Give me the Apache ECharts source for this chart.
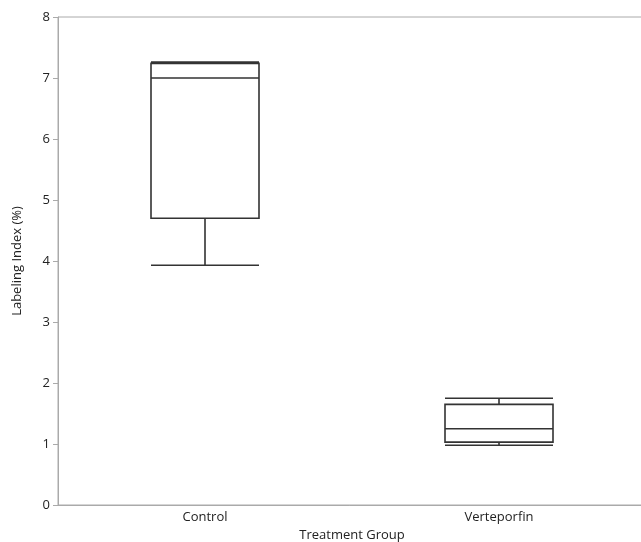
<!DOCTYPE html>
<html><head><meta charset="utf-8">
<script src="https://cdn.jsdelivr.net/npm/echarts@6/dist/echarts.min.js"></script>
<style>html,body{margin:0;padding:0;background:#fff}#c{width:641px;height:542px}</style>
</head><body><div id="c"></div>
<script>
const categories = ["Control", "Verteporfin"];
// [min, Q1, median, Q3, max]
const controlBox = [3.93, 4.70, 7.00, 7.24, 7.26];
const verteporfinBox = [0.98, 1.03, 1.25, 1.65, 1.75];
const yTicks = [0, 1, 2, 3, 4, 5, 6, 7, 8];

const chart = echarts.init(document.getElementById('c'), null, {renderer: 'canvas'});
const font = '"Open Sans", "Noto Sans", sans-serif';
chart.setOption({
  animation: false,
  backgroundColor: '#fff',
  grid: {left: 58, top: 17, width: 588, height: 488, show: true, borderColor: '#aaa', borderWidth: 1,
         containLabel: false, outerBoundsMode: 'none'},
  xAxis: {
    type: 'category', data: categories,
    name: 'Treatment Group', nameLocation: 'middle', nameGap: 23,
    nameTextStyle: {color: '#222', fontSize: 13, fontFamily: font},
    axisLine: {lineStyle: {color: '#aaa', width: 1}},
    axisTick: {show: false},
    axisLabel: {color: '#222', fontSize: 13, fontFamily: font, margin: 6}
  },
  yAxis: {
    type: 'value', min: yTicks[0], max: yTicks[yTicks.length - 1], interval: 1,
    name: 'Labeling Index (%)', nameLocation: 'middle', nameGap: 34,
    nameTextStyle: {color: '#222', fontSize: 13, fontFamily: font},
    axisLine: {show: true, lineStyle: {color: '#aaa', width: 1}},
    axisTick: {show: true, length: 5, lineStyle: {color: '#aaa'}},
    splitLine: {show: false},
    axisLabel: {color: '#222', fontSize: 13, fontFamily: font, margin: 8}
  },
  series: [{
    type: 'boxplot',
    boxWidth: [108, 108],
    itemStyle: {color: '#fff', borderColor: '#333', borderWidth: 1.6},
    data: [controlBox, verteporfinBox]
  }]
});
</script></body></html>
